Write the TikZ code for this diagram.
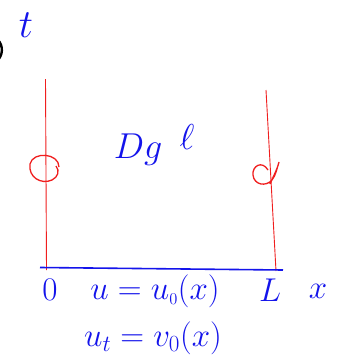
\RequirePackage{fix-cm}
\documentclass[tikz,border=0pt]{standalone}
\usepackage{amsmath}
\begin{document}
\begin{tikzpicture}[x=1pt,y=-1pt,
  lab/.style={text=inkblue, font=\fontsize{33}{36}\selectfont, inner sep=0pt},
  redline/.style={draw=inkred, line width=0.9pt},
  redloop/.style={draw=inkred, line width=1.3pt},
  axisline/.style={draw=inkblue, line width=1.6pt}]
\definecolor{inkblue}{RGB}{20,20,235}
\definecolor{inkred}{RGB}{240,30,30}
\useasboundingbox (0,0) rectangle (339,362);
\fill[white] (0,0) rectangle (339,362);
% black fragment at left edge
\draw[line width=2.4pt] (-8,64) arc[start angle=70, end angle=-70, radius=15];
% labels
\node[lab, font=\fontsize{40}{44}\selectfont] (t) at (26,25) {$t$};
\node[lab, font=\fontsize{36}{40}\selectfont] (dg) at (138,150) {$Dg$};
\node[lab, font=\fontsize{36}{40}\selectfont] (ell) at (187,137) {$\ell$};
\node[lab] (zero) at (50,290) {$0$};
\node[lab] (ic1) at (155,291) {$u \mathrel{=} u_{\scriptscriptstyle 0}(x)$};
\node[lab] (L) at (270,290) {$L$};
\node[lab] (x) at (318,291) {$x$};
\node[lab] (ic2) at (153,338) {$u_t = v_0(x)$};
% coordinates
\coordinate (lt) at (45.5,79);
\coordinate (lb) at (46.5,270);
\coordinate (rt) at (266,90);
\coordinate (rb) at (276,271);
\coordinate (a0) at (40,267.5);
\coordinate (a1) at (283,270);
% lines
\draw[redline] (lt) -- (lb);
\draw[redline] (rt) -- (rb);
\draw[axisline] (a0) -- (a1);
% left loop
\draw[redloop] (59,167) .. controls (59,153) and (33,151) .. (30,164)
   .. controls (28,177) and (41,185) .. (52,180)
   .. controls (58,177) and (60,171) .. (56,166);
% right curl
\draw[redloop] (268,170) .. controls (262,160) and (252,166) .. (253,175)
   .. controls (254,185) and (266,187) .. (272,180)
   .. controls (276,175) and (277,168) .. (279,162)
   .. controls (277,170) and (273,177) .. (270,184);
\end{tikzpicture}
\end{document}
